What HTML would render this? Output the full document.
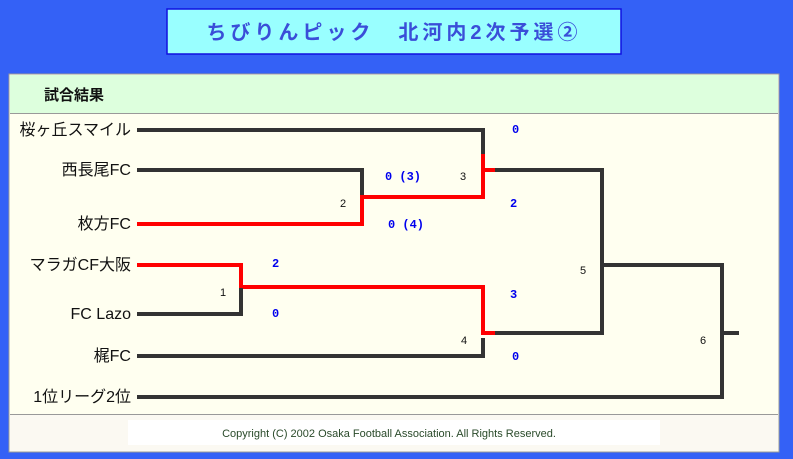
<!DOCTYPE html>
<html><head><meta charset="utf-8"><style>
body{margin:0;width:793px;height:459px;background:#3461f6;overflow:hidden;font-family:"Liberation Sans","Noto Sans CJK JP",sans-serif;}
</style></head><body>
<svg width="793" height="459" xmlns="http://www.w3.org/2000/svg" style="position:absolute;left:0;top:0">
<rect x="167" y="9" width="454" height="45" fill="#99ffff" stroke="#1010e0" stroke-width="1.5"/>
<text x="394" y="39" text-anchor="middle" font-size="20" font-weight="bold" fill="#3a4ed8" letter-spacing="4" font-family="Liberation Sans,Noto Sans CJK JP,sans-serif">ちびりんピック　北河内2次予選②</text>
<rect x="9" y="74" width="770" height="378" fill="#fffff0" stroke="#999" stroke-width="1"/>
<rect x="10" y="75" width="768" height="38" fill="#ddffdd"/>
<line x1="10" y1="113.5" x2="778" y2="113.5" stroke="#999"/>
<text x="44" y="100" font-size="15" font-weight="bold" fill="#111" font-family="Liberation Sans,Noto Sans CJK JP,sans-serif">試合結果</text>
<rect x="10" y="414" width="768" height="37" fill="#fbf9f2"/>
<line x1="10" y1="414.5" x2="778" y2="414.5" stroke="#999"/>
<rect x="128" y="420" width="532" height="25" fill="#fff"/>
<text x="389" y="437" text-anchor="middle" font-size="11" fill="#2a4a2a">Copyright (C) 2002 Osaka Football Association. All Rights Reserved.</text>
<g font-size="16" fill="#111" text-anchor="end" font-family="Liberation Sans,Noto Sans CJK JP,sans-serif">
<text x="131" y="135">桜ヶ丘スマイル</text>
<text x="131" y="175">西長尾FC</text>
<text x="131" y="229">枚方FC</text>
<text x="131" y="270">マラガCF大阪</text>
<text x="131" y="319">FC Lazo</text>
<text x="131" y="361">梶FC</text>
<text x="131" y="402">1位リーグ2位</text>
</g>
<g stroke-width="4" fill="none" stroke-linecap="square">
<path d="M139 130H483V156" stroke="#333"/>
<path d="M483 156V197M485 170H497" stroke="#f00"/>
<path d="M497 170H602" stroke="#333"/>
<path d="M139 170H362V197" stroke="#333"/>
<path d="M139 224H362V197M362 197H483" stroke="#f00"/>
<path d="M139 265H241V290M241 287H483V333H497" stroke="#f00"/>
<path d="M139 314H241V290" stroke="#333"/>
<path d="M139 356H483V340" stroke="#333"/>
<path d="M497 333H602V170M602 265H722V397H139M722 333H737" stroke="#333"/>
</g>
<g font-size="12" font-weight="bold" fill="#0000ee" font-family="Liberation Mono,monospace">
<text x="512" y="133">0</text>
<text x="385" y="180">0 (3)</text>
<text x="510" y="207">2</text>
<text x="388" y="228">0 (4)</text>
<text x="272" y="267">2</text>
<text x="272" y="317">0</text>
<text x="510" y="298">3</text>
<text x="512" y="360">0</text>
</g>
<g font-size="11" fill="#111">
<text x="460" y="180">3</text>
<text x="340" y="207">2</text>
<text x="220" y="296">1</text>
<text x="461" y="344">4</text>
<text x="580" y="274">5</text>
<text x="700" y="344">6</text>
</g>
</svg>
</body></html>
